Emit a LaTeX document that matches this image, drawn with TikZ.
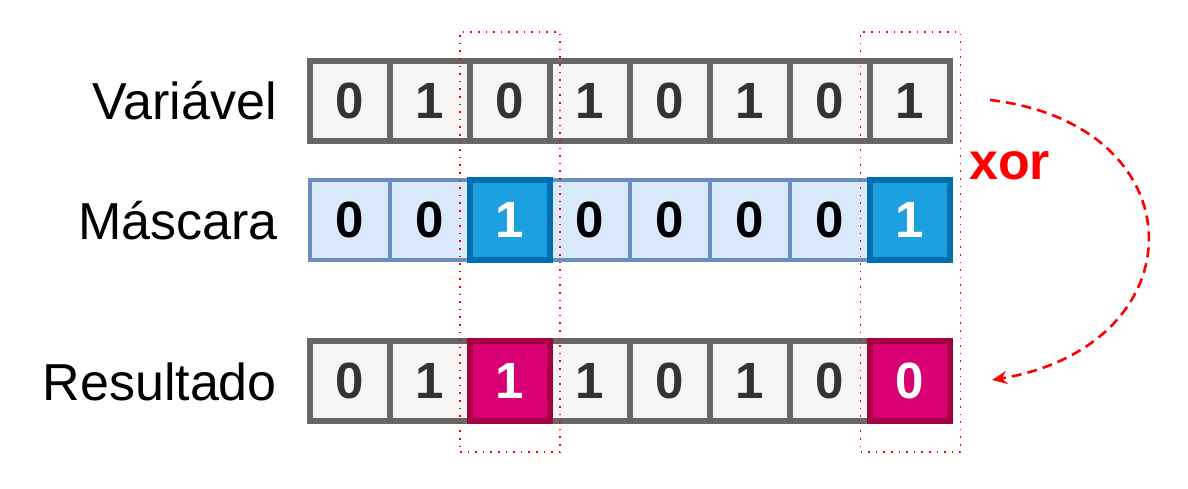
\documentclass[tikz,border=0pt]{standalone}
\usepackage{fontspec}
\setmainfont{Liberation Sans}
\usetikzlibrary{arrows.meta,shadows}
\definecolor{gfill}{HTML}{F5F5F5}
\definecolor{gline}{HTML}{666666}
\definecolor{gtext}{HTML}{333333}
\definecolor{lbfill}{HTML}{DAE8FC}
\definecolor{lbline}{HTML}{6C8EBF}
\definecolor{dbfill}{HTML}{1BA1E2}
\definecolor{dbline}{HTML}{006EAF}
\definecolor{mgfill}{HTML}{D80073}
\definecolor{mgline}{HTML}{A50040}
\definecolor{xred}{HTML}{FF0000}
\begin{document}
\begin{tikzpicture}[x=1pt,y=-1pt,
  cell/.style={rectangle, inner sep=0pt, minimum width=80pt, minimum height=80pt,
    font=\fontsize{51}{60}\selectfont\bfseries,
    drop shadow={shadow xshift=2pt,shadow yshift=-2pt,opacity=0.25}},
  graycell/.style={cell, fill=gfill, draw=gline, line width=6pt, text=gtext},
  lightcell/.style={cell, fill=lbfill, draw=lbline, line width=4pt, text=black},
  darkcell/.style={cell, fill=dbfill, draw=dbline, line width=6pt, text=white},
  magcell/.style={cell, fill=mgfill, draw=mgline, line width=6pt, text=white},
  rowlabel/.style={anchor=base east, inner sep=0pt, font=\fontsize{52}{60}\selectfont},
  hlbox/.style={rectangle, draw=xred, line width=1.6pt, dash pattern=on 1.6pt off 6pt,
    minimum width=100pt, minimum height=420pt, inner sep=0pt},
  xorlabel/.style={anchor=base west, inner sep=0pt, text=xred, font=\fontsize{52}{60}\selectfont\bfseries},
  xorarrow/.style={draw=xred, line width=2.6pt, dash pattern=on 10pt off 6pt,
    -{Stealth[length=15pt,width=13pt]}}
]
\useasboundingbox (0,0) rectangle (1188,489);

% row labels
\node[rowlabel] (lv) at (277,120) {Variável};
\node[rowlabel] (lm) at (278,240) {Máscara};
\node[rowlabel] (lr) at (277,400) {Resultado};

% Variavel
\node[graycell] (v1) at (350,101) {0};
\node[graycell] (v2) at (430,101) {1};
\node[graycell] (v3) at (510,101) {0};
\node[graycell] (v4) at (590,101) {1};
\node[graycell] (v5) at (670,101) {0};
\node[graycell] (v6) at (750,101) {1};
\node[graycell] (v7) at (830,101) {0};
\node[graycell] (v8) at (910,101) {1};

% Mascara
\node[lightcell] (m1) at (350,220) {0};
\node[lightcell] (m2) at (430,220) {0};
\node[lightcell] (m4) at (590,220) {0};
\node[lightcell] (m5) at (670,220) {0};
\node[lightcell] (m6) at (750,220) {0};
\node[lightcell] (m7) at (830,220) {0};
\node[darkcell] (m3) at (510,220) {1};
\node[darkcell] (m8) at (910,220) {1};

% Resultado
\node[graycell] (r1) at (350,381) {0};
\node[graycell] (r2) at (430,381) {1};
\node[graycell] (r4) at (590,381) {1};
\node[graycell] (r5) at (670,381) {0};
\node[graycell] (r6) at (750,381) {1};
\node[graycell] (r7) at (830,381) {0};
\node[magcell] (r3) at (510,381) {1};
\node[magcell] (r8) at (910,381) {0};

% highlight frames
\node[hlbox] (h1) at (510,242) {};
\node[hlbox] (h2) at (910.5,242) {};

% xor
\node[xorlabel] (xor) at (969,180) {xor};
\coordinate (as) at (990,100);
\coordinate (ae) at (992,380);
\draw[xorarrow] (as) .. controls (1200,125) and (1200,345) .. (ae);
\end{tikzpicture}
\end{document}
